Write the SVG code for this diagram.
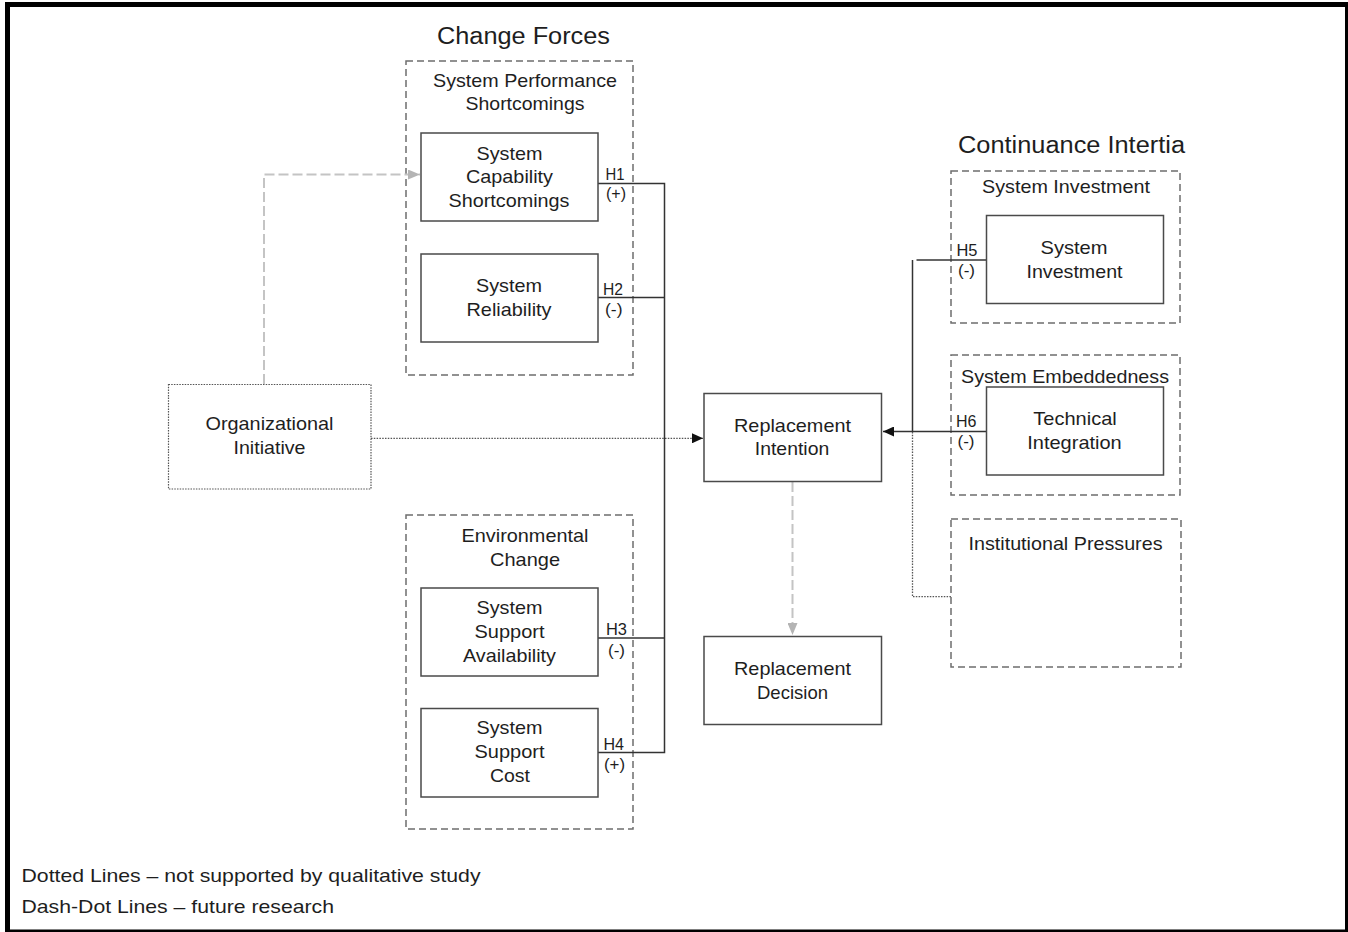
<svg xmlns="http://www.w3.org/2000/svg" width="1348" height="932" viewBox="0 0 1348 932">
<style>
text{font-family:"Liberation Sans",Arial,sans-serif;fill:#1e1e1e;text-anchor:middle}
.t{font-size:19px}
.ttl{font-size:23px}
.h{font-size:16px;text-anchor:start}
.p{font-size:16px;text-anchor:start}
.lg{font-size:18.5px;text-anchor:start}
.box{fill:#fff;stroke:#4a4a4a;stroke-width:1.5}
.grp{fill:none;stroke:#6e6e6e;stroke-width:1.5;stroke-dasharray:7 4}
.dotbox{fill:#fff;stroke:#555;stroke-width:1.2;stroke-dasharray:1.5 1.2}
.sol{fill:none;stroke:#333;stroke-width:1.5}
.dot{fill:none;stroke:#555;stroke-width:1.3;stroke-dasharray:1.5 1.3}
.fut{fill:none;stroke:#c4c4c4;stroke-width:2;stroke-dasharray:10 4}
</style>
<defs>
<marker id="ab" markerWidth="12" markerHeight="10" refX="11" refY="5" orient="auto" markerUnits="userSpaceOnUse"><path d="M0,0 L11,5 L0,10 Z" fill="#111"/></marker>
<marker id="ag" markerWidth="13" markerHeight="10" refX="12" refY="5" orient="auto" markerUnits="userSpaceOnUse"><path d="M0,0 L12,5 L0,10 Z" fill="#b4b4b4"/></marker>
</defs>
<rect width="1348" height="932" fill="#fff"/>
<path d="M5,2 H1348 V932 H5 Z M10,7 V929.5 H1345 V7 Z" fill="#000" fill-rule="evenodd"/>

<g id="titles">
<text class="ttl" x="523.5" y="44" textLength="173" lengthAdjust="spacingAndGlyphs">Change Forces</text>
<text class="ttl" x="1071.5" y="152.5" textLength="227" lengthAdjust="spacingAndGlyphs">Continuance Intertia</text>
</g>

<g id="group-performance">
<rect class="grp" x="406" y="61" width="227" height="314"/>
<text class="t" x="525" y="87" textLength="184" lengthAdjust="spacingAndGlyphs">System Performance</text>
<text class="t" x="525" y="110" textLength="119" lengthAdjust="spacingAndGlyphs">Shortcomings</text>
</g>
<g id="group-environmental">
<rect class="grp" x="406" y="515" width="227" height="314"/>
<text class="t" x="525" y="541.5" textLength="127" lengthAdjust="spacingAndGlyphs">Environmental</text>
<text class="t" x="525" y="565.5" textLength="70" lengthAdjust="spacingAndGlyphs">Change</text>
</g>
<g id="group-investment">
<rect class="grp" x="951" y="171" width="229" height="152"/>
<text class="t" x="1066" y="193" textLength="168" lengthAdjust="spacingAndGlyphs">System Investment</text>
</g>
<g id="group-embeddedness">
<rect class="grp" x="951" y="355" width="229" height="140"/>
<text class="t" x="1065" y="383" textLength="208" lengthAdjust="spacingAndGlyphs">System Embeddedness</text>
</g>
<g id="group-institutional">
<rect class="grp" x="951" y="519" width="230" height="148"/>
<text class="t" x="1065.5" y="550" textLength="194" lengthAdjust="spacingAndGlyphs">Institutional Pressures</text>
</g>

<g id="connectors">
<path class="fut" d="M264,384 V174.5 H420" marker-end="url(#ag)"/>
<path class="fut" d="M792.5,482 V635" marker-end="url(#ag)"/>
<path class="dot" d="M371,438.3 H703" marker-end="url(#ab)"/>
<path class="sol" d="M598,183.5 H664.5 V752.5 H598"/>
<path class="sol" d="M598,297.5 H664.5"/>
<path class="sol" d="M598,638 H664.5"/>
<path class="sol" d="M986.5,260 H916.5"/>
<path class="sol" d="M912.5,260 V431"/>
<path class="sol" d="M986.5,431.5 H883" marker-end="url(#ab)"/>
<path class="dot" d="M912.5,432 V596.7 H951"/>
</g>

<g id="n-capability">
<rect class="box" x="421" y="133" width="177" height="88"/>
<text class="t" x="509.5" y="159.5" textLength="66" lengthAdjust="spacingAndGlyphs">System</text>
<text class="t" x="509.5" y="183" textLength="87" lengthAdjust="spacingAndGlyphs">Capability</text>
<text class="t" x="509" y="206.5" textLength="121" lengthAdjust="spacingAndGlyphs">Shortcomings</text>
</g>
<g id="n-reliability">
<rect class="box" x="421" y="254" width="177" height="88"/>
<text class="t" x="509" y="291.5" textLength="66" lengthAdjust="spacingAndGlyphs">System</text>
<text class="t" x="509" y="315.5" textLength="85" lengthAdjust="spacingAndGlyphs">Reliability</text>
</g>
<g id="n-availability">
<rect class="box" x="421" y="588" width="177" height="88"/>
<text class="t" x="509.5" y="613.5" textLength="66" lengthAdjust="spacingAndGlyphs">System</text>
<text class="t" x="509.5" y="637.5" textLength="70" lengthAdjust="spacingAndGlyphs">Support</text>
<text class="t" x="509.5" y="661.5" textLength="93" lengthAdjust="spacingAndGlyphs">Availability</text>
</g>
<g id="n-cost">
<rect class="box" x="421" y="708.5" width="177" height="88.5"/>
<text class="t" x="509.5" y="734" textLength="66" lengthAdjust="spacingAndGlyphs">System</text>
<text class="t" x="509.5" y="758" textLength="70" lengthAdjust="spacingAndGlyphs">Support</text>
<text class="t" x="510" y="781.5" textLength="40" lengthAdjust="spacingAndGlyphs">Cost</text>
</g>
<g id="n-initiative">
<rect class="dotbox" x="168.5" y="384.5" width="202.5" height="104.5"/>
<text class="t" x="269.5" y="430" textLength="128" lengthAdjust="spacingAndGlyphs">Organizational</text>
<text class="t" x="269.5" y="454" textLength="72" lengthAdjust="spacingAndGlyphs">Initiative</text>
</g>
<g id="n-intention">
<rect class="box" x="704" y="393.5" width="177.5" height="88"/>
<text class="t" x="792.5" y="431.5" textLength="117" lengthAdjust="spacingAndGlyphs">Replacement</text>
<text class="t" x="792" y="455" textLength="74.5" lengthAdjust="spacingAndGlyphs">Intention</text>
</g>
<g id="n-decision">
<rect class="box" x="704" y="636.5" width="177.5" height="88"/>
<text class="t" x="792.5" y="674.5" textLength="117" lengthAdjust="spacingAndGlyphs">Replacement</text>
<text class="t" x="792.5" y="698.5" textLength="71" lengthAdjust="spacingAndGlyphs">Decision</text>
</g>
<g id="n-investment">
<rect class="box" x="986.5" y="215.5" width="177" height="88"/>
<text class="t" x="1074" y="254" textLength="67" lengthAdjust="spacingAndGlyphs">System</text>
<text class="t" x="1074.5" y="277.5" textLength="96" lengthAdjust="spacingAndGlyphs">Investment</text>
</g>
<g id="n-integration">
<rect class="box" x="986.5" y="387" width="177" height="88"/>
<text class="t" x="1075" y="425" textLength="83.5" lengthAdjust="spacingAndGlyphs">Technical</text>
<text class="t" x="1074.5" y="448.5" textLength="94.5" lengthAdjust="spacingAndGlyphs">Integration</text>
</g>

<g id="labels">
<text class="h" x="605.5" y="180" textLength="19" lengthAdjust="spacingAndGlyphs">H1</text>
<text class="p" x="606" y="199" textLength="20" lengthAdjust="spacingAndGlyphs">(+)</text>
<text class="h" x="603" y="294.5" textLength="20" lengthAdjust="spacingAndGlyphs">H2</text>
<text class="p" x="605" y="315" textLength="17.5" lengthAdjust="spacingAndGlyphs">(-)</text>
<text class="h" x="606" y="634.5" textLength="21" lengthAdjust="spacingAndGlyphs">H3</text>
<text class="p" x="608" y="656" textLength="17" lengthAdjust="spacingAndGlyphs">(-)</text>
<text class="h" x="603.5" y="749.5" textLength="20.5" lengthAdjust="spacingAndGlyphs">H4</text>
<text class="p" x="604" y="770" textLength="21" lengthAdjust="spacingAndGlyphs">(+)</text>
<text class="h" x="956.5" y="255.5" textLength="21" lengthAdjust="spacingAndGlyphs">H5</text>
<text class="p" x="958" y="276" textLength="17" lengthAdjust="spacingAndGlyphs">(-)</text>
<text class="h" x="956" y="427" textLength="20.5" lengthAdjust="spacingAndGlyphs">H6</text>
<text class="p" x="957.5" y="447" textLength="17" lengthAdjust="spacingAndGlyphs">(-)</text>
</g>

<g id="legend">
<text class="lg" x="21.5" y="881.5" textLength="459" lengthAdjust="spacingAndGlyphs">Dotted Lines – not supported by qualitative study</text>
<text class="lg" x="21.5" y="913" textLength="312.5" lengthAdjust="spacingAndGlyphs">Dash-Dot Lines – future research</text>
</g>
</svg>
